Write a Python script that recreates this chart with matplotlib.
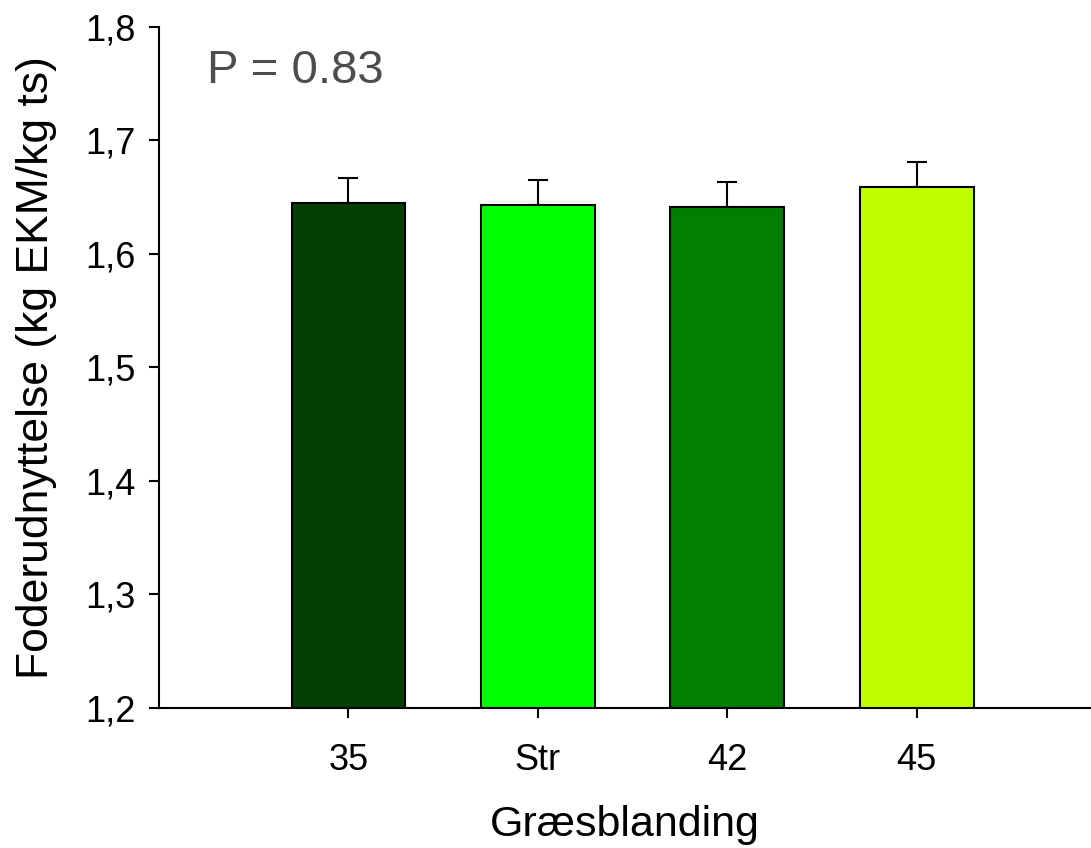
import matplotlib
matplotlib.use("Agg")
import matplotlib.pyplot as plt

plt.rcParams['font.family'] = ['Liberation Sans', 'DejaVu Sans']

# data
groups = ['35', 'Str', '42', '45']
values = [1.645, 1.643, 1.641, 1.659]
errors = [0.022, 0.022, 0.022, 0.022]
colors = ['#034003', '#00ff00', '#007f00', '#bfff00']
yticks = [1.2, 1.3, 1.4, 1.5, 1.6, 1.7, 1.8]
ytick_labels = ['1,2', '1,3', '1,4', '1,5', '1,6', '1,7', '1,8']

fig = plt.figure(figsize=(10.91, 8.48), dpi=100)
ax = fig.add_axes([0.1457, 0.1651, 0.8543, 0.8031])

x = range(len(groups))
ax.bar(x, values, width=0.6, color=colors, edgecolor='black', linewidth=1.5, zorder=2)
ax.errorbar(x, values, yerr=[[0] * len(errors), errors], fmt='none', ecolor='black',
            elinewidth=1.5, capsize=7, capthick=1.5, zorder=1)

ax.set_xlim(-1.0, 3.92)
ax.set_ylim(1.2, 1.8)
ax.set_yticks(yticks)
ax.set_yticklabels(ytick_labels)
ax.set_xticks(list(x))
ax.set_xticklabels(groups)

ax.spines['top'].set_visible(False)
ax.spines['right'].set_visible(False)
ax.spines['left'].set_linewidth(1.5)
ax.spines['bottom'].set_linewidth(1.5)
ax.tick_params(axis='y', labelsize=26, width=1.5, length=7, pad=10)
ax.tick_params(axis='x', labelsize=26, width=1.5, length=7, pad=18)

ax.set_ylabel('Foderudnyttelse (kg EKM/kg ts)', fontsize=32, labelpad=20)
ax.set_xlabel('Græsblanding', fontsize=31, labelpad=20)

ax.text(0.052, 0.935, 'P = 0.83', transform=ax.transAxes, fontsize=34,
        color='#4d4d4d', va='center', ha='left')

fig.savefig('out.png', dpi=100)
